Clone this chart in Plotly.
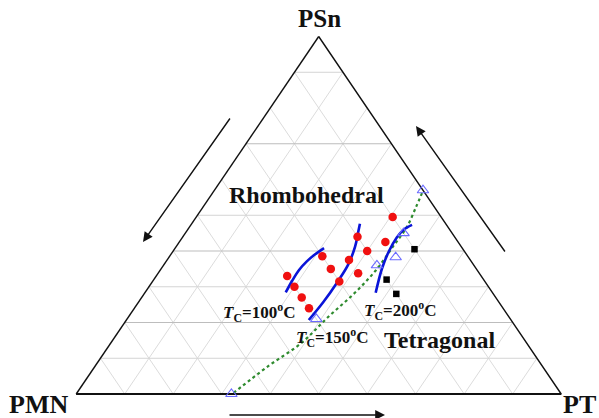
import plotly.graph_objects as go

# Compositions (fractions): PMN, PSn, PT
red_pmn = [0.10, 0.20, 0.15, 0.20, 0.30, 0.25, 0.30, 0.25, 0.40, 0.30, 0.40, 0.40, 0.40]
red_psn = [0.495, 0.44, 0.425, 0.40, 0.385, 0.375, 0.35, 0.3375, 0.33, 0.315, 0.30, 0.27, 0.24]
red_pt = [0.405, 0.36, 0.425, 0.40, 0.315, 0.375, 0.35, 0.4125, 0.27, 0.385, 0.30, 0.33, 0.36]

sq_pmn = [0.10, 0.20, 0.20]
sq_psn = [0.405, 0.32, 0.28]
sq_pt = [0.495, 0.48, 0.52]

mpb_pmn = [0.0, 0.10, 0.15, 0.20, 0.40, 0.68]
mpb_psn = [0.57, 0.45, 0.3825, 0.36, 0.21, 0.0]
mpb_pt = [0.43, 0.45, 0.4675, 0.44, 0.39, 0.32]

# Morphotropic phase boundary guide (dotted)
guide_pmn = [0.674, 0.568, 0.464, 0.372, 0.284, 0.208, 0.141, 0.084, 0.037, 0.006]
guide_psn = [0.003, 0.076, 0.143, 0.216, 0.283, 0.347, 0.412, 0.468, 0.524, 0.562]
guide_pt = [0.323, 0.356, 0.393, 0.412, 0.433, 0.445, 0.447, 0.448, 0.439, 0.432]

# Curie temperature contours
tc100_pmn = [0.426, 0.397, 0.367, 0.339, 0.313, 0.285]
tc100_psn = [0.284, 0.316, 0.347, 0.371, 0.390, 0.408]
tc100_pt = [0.290, 0.287, 0.286, 0.290, 0.297, 0.307]

tc150_pmn = [0.417, 0.361, 0.308, 0.259, 0.219, 0.194, 0.177]
tc150_psn = [0.207, 0.258, 0.310, 0.361, 0.412, 0.450, 0.476]
tc150_pt = [0.376, 0.381, 0.382, 0.380, 0.369, 0.356, 0.347]

tc200_pmn = [0.241, 0.194, 0.155, 0.120, 0.096, 0.071]
tc200_psn = [0.283, 0.351, 0.400, 0.438, 0.459, 0.473]
tc200_pt = [0.476, 0.455, 0.445, 0.442, 0.445, 0.456]

grid_levels = [0.1, 0.2, 0.3, 0.4, 0.5, 0.6, 0.7, 0.8, 0.9]
psn_levels_dark = [0.2, 0.4, 0.7]
psn_levels_light = [0.1, 0.3, 0.5, 0.9]


def to_xy(pmn, psn, pt):
    xs, ys = [], []
    for a, b, c in zip(pmn, psn, pt):
        s = a + b + c
        xs.append((c + b / 2) / s)
        ys.append(b / s)
    return xs, ys


fig = go.Figure()


def add_lines(segments, color, width):
    xs, ys = [], []
    for seg in segments:
        sx, sy = to_xy(*seg)
        xs += sx + [None]
        ys += sy + [None]
    fig.add_trace(go.Scatter(x=xs, y=ys, mode="lines", hoverinfo="skip",
                             line=dict(color=color, width=width), showlegend=False))


# grid lines parallel to the two slanted sides
diag = []
for g in grid_levels:
    diag.append(([g, g], [1 - g, 0], [0, 1 - g]))      # constant PMN
    diag.append(([0, 1 - g], [1 - g, 0], [g, g]))      # constant PT
add_lines(diag, "#dcdcdc", 1)

# horizontal grid lines (constant PSn)
add_lines([([1 - g, 0], [g, g], [0, 1 - g]) for g in psn_levels_light], "#d4d4d4", 1)
add_lines([([1 - g, 0], [g, g], [0, 1 - g]) for g in psn_levels_dark], "#bdbdbd", 1.2)

# triangle frame
add_lines([([1, 0, 0], [0, 0, 1], [0, 1, 0]), ([0, 1], [1, 0], [0, 0])], "#111111", 1.4)
add_lines([([1, 0], [0, 0], [0, 1])], "#111111", 2.2)

# dotted phase-boundary guide
gx, gy = to_xy(guide_pmn, guide_psn, guide_pt)
fig.add_trace(go.Scatter(x=gx, y=gy, mode="lines", line=dict(color="#2e8b2e", width=2.2, dash="dot",
                                                            shape="spline"), showlegend=False))

# Tc contours
for pm, ps, ptv in [(tc100_pmn, tc100_psn, tc100_pt), (tc150_pmn, tc150_psn, tc150_pt),
                    (tc200_pmn, tc200_psn, tc200_pt)]:
    cx, cy = to_xy(pm, ps, ptv)
    fig.add_trace(go.Scatter(x=cx, y=cy, mode="lines",
                             line=dict(color="#0a14d8", width=2.6, shape="spline"), showlegend=False))

# data points
rx, ry = to_xy(red_pmn, red_psn, red_pt)
fig.add_trace(go.Scatter(x=rx, y=ry, mode="markers",
                         marker=dict(symbol="circle", size=8.5, color="#f01010"), showlegend=False))
sx, sy = to_xy(sq_pmn, sq_psn, sq_pt)
fig.add_trace(go.Scatter(x=sx, y=sy, mode="markers",
                         marker=dict(symbol="square", size=6.5, color="#000000"), showlegend=False))
mx, my = to_xy(mpb_pmn, mpb_psn, mpb_pt)
fig.add_trace(go.Scatter(x=mx, y=my, mode="markers",
                         marker=dict(symbol="triangle-up-open", size=10, color="#6b6bff",
                                     line=dict(width=1.1)), showlegend=False))

W, H = 599, 418
X0, X1, YB, YT = 76.2, 561.2, 394.0, 36.5
sx_px = X1 - X0
sy_px = YB - YT


def paper(px, py):
    return px / W, 1 - py / H


def data(px, py):
    return (px - X0) / sx_px, (YB - py) / sy_px


serif = "Liberation Serif, Times New Roman, serif"
annotations = []


def label(text, px, py, size, xanchor="center"):
    x, y = paper(px, py)
    annotations.append(dict(text=text, x=x, y=y, xref="paper", yref="paper", showarrow=False,
                            xanchor=xanchor, yanchor="middle",
                            font=dict(family=serif, size=size, color="#111111")))


label("<b>PSn</b>", 319, 19, 25)
label("<b>PMN</b>", 38, 404, 26)
label("<b>PT</b>", 598, 404, 26, xanchor="right")
label("<b>Rhombohedral</b>", 307, 195, 24)
label("<b>Tetragonal</b>", 440, 340, 24)
label("<b><i>T</i><sub>C</sub>=100<sup>o</sup>C</b>", 259, 312, 17)
label("<b><i>T</i><sub>C</sub>=150<sup>o</sup>C</b>", 332, 337, 17)
label("<b><i>T</i><sub>C</sub>=200<sup>o</sup>C</b>", 400, 310, 17)


def arrow(tail, head):
    tx, ty = data(*tail)
    hx, hy = data(*head)
    annotations.append(dict(x=hx, y=hy, ax=tx, ay=ty, xref="x", yref="y", axref="x", ayref="y",
                            text="", showarrow=True, arrowhead=2, arrowsize=1.4, arrowwidth=1.4,
                            arrowcolor="#111111"))


arrow((231, 117), (143, 242))
arrow((506, 253), (416, 126))
arrow((228, 415), (385, 415))

fig.update_layout(
    width=W, height=H, margin=dict(l=0, r=0, t=0, b=0),
    paper_bgcolor="white", plot_bgcolor="white",
    xaxis=dict(range=[-X0 / sx_px, (W - X0) / sx_px], visible=False, fixedrange=True),
    yaxis=dict(range=[-(H - YB) / sy_px, 1 + YT / sy_px], visible=False, fixedrange=True),
    annotations=annotations,
)

fig.write_html("out.html")
